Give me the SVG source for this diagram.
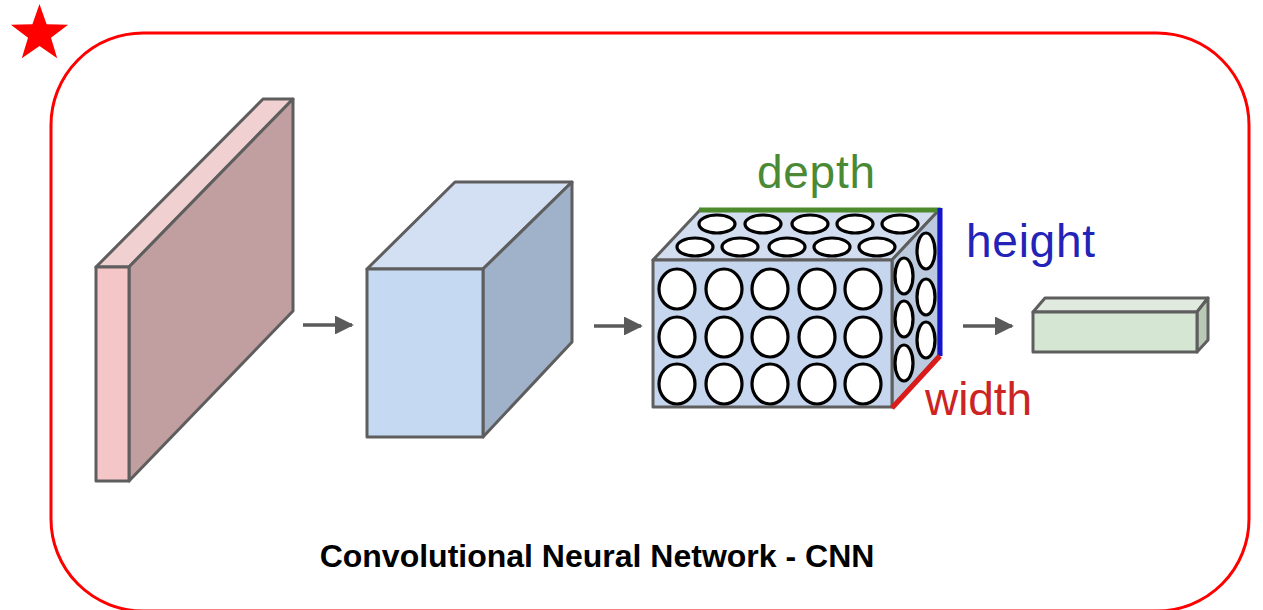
<svg xmlns="http://www.w3.org/2000/svg" width="1263" height="610" viewBox="0 0 1263 610">
  <style>
    .edge { stroke: #5e5e5e; stroke-width: 3; stroke-linejoin: round; }
    .cell { fill: #ffffff; stroke: #000000; stroke-width: 3.2; }
    .lbl { font-family: "Liberation Sans", Arial, sans-serif; font-size: 46px; }
    .arrow { stroke: #5a5a5a; stroke-width: 3.5; fill: none; }
  </style>
  <defs>
    <marker id="head" viewBox="0 0 10 10" refX="9" refY="5" markerWidth="6" markerHeight="5.4" markerUnits="strokeWidth" orient="auto">
      <path d="M0,0 L10,5 L0,10 Z" fill="#5a5a5a"/>
    </marker>
  </defs>

  <rect width="1263" height="610" fill="#ffffff"/>

  <!-- frame and star -->
  <rect x="51" y="33" width="1198" height="578" rx="92" ry="92" fill="none" stroke="#ff0000" stroke-width="3"/>
  <polygon fill="#ff0000" points="39.5,4 46.6,24.3 68.1,24.7 51,37.7 57.2,58.3 39.5,46 21.8,58.3 28,37.7 10.9,24.7 32.4,24.3"/>

  <!-- input volume -->
  <g id="input">
    <polygon class="edge" fill="#f0d0d0" points="96,267 129,267 293,99 263,99"/>
    <polygon class="edge" fill="#c19e9f" points="129,267 293,99 293,311 129,481"/>
    <rect class="edge" fill="#f4c6c8" x="96" y="267" width="33" height="214"/>
  </g>

  <!-- hidden volume -->
  <g id="hidden">
    <polygon class="edge" fill="#d3e0f3" points="367,269 483,269 572,182 455,182"/>
    <polygon class="edge" fill="#a0b1ca" points="483,269 572,182 572,342 483,437"/>
    <rect class="edge" fill="#c6d9f2" x="367" y="269" width="116" height="168"/>
  </g>

  <!-- neuron volume -->
  <g id="neurons">
    <polygon class="edge" fill="#d2ddef" points="653,260 892,260 939,210 700,210"/>
    <polygon class="edge" fill="#bccadf" points="892,260 939,210 939,355 892,407"/>
    <rect class="edge" fill="#c6d6ee" x="653" y="260" width="239" height="147"/>
    <!-- top face -->
    <g>
      <ellipse class="cell" cx="717" cy="224" rx="18" ry="9"/>
      <ellipse class="cell" cx="763" cy="224" rx="18" ry="9"/>
      <ellipse class="cell" cx="810" cy="224" rx="18" ry="9"/>
      <ellipse class="cell" cx="855" cy="224" rx="18" ry="9"/>
      <ellipse class="cell" cx="900" cy="224" rx="18" ry="9"/>
      <ellipse class="cell" cx="695" cy="247" rx="18" ry="9"/>
      <ellipse class="cell" cx="740" cy="247" rx="18" ry="9"/>
      <ellipse class="cell" cx="787" cy="247" rx="18" ry="9"/>
      <ellipse class="cell" cx="832" cy="247" rx="18" ry="9"/>
      <ellipse class="cell" cx="877" cy="247" rx="18" ry="9"/>
    </g>
    <!-- side face -->
    <g>
      <ellipse class="cell" cx="926" cy="251" rx="9" ry="18"/>
      <ellipse class="cell" cx="926" cy="297" rx="9" ry="18"/>
      <ellipse class="cell" cx="926" cy="340" rx="9" ry="18"/>
      <ellipse class="cell" cx="904" cy="276" rx="9" ry="18"/>
      <ellipse class="cell" cx="904" cy="319" rx="9" ry="18"/>
      <ellipse class="cell" cx="904" cy="363" rx="9" ry="18"/>
    </g>
    <!-- front face -->
    <g>
      <ellipse class="cell" cx="677" cy="289" rx="18" ry="20"/>
      <ellipse class="cell" cx="724" cy="289" rx="18" ry="20"/>
      <ellipse class="cell" cx="770" cy="289" rx="18" ry="20"/>
      <ellipse class="cell" cx="817" cy="289" rx="18" ry="20"/>
      <ellipse class="cell" cx="863" cy="289" rx="18" ry="20"/>
      <ellipse class="cell" cx="677" cy="337" rx="18" ry="20"/>
      <ellipse class="cell" cx="724" cy="337" rx="18" ry="20"/>
      <ellipse class="cell" cx="770" cy="337" rx="18" ry="20"/>
      <ellipse class="cell" cx="817" cy="337" rx="18" ry="20"/>
      <ellipse class="cell" cx="863" cy="337" rx="18" ry="20"/>
      <ellipse class="cell" cx="677" cy="384" rx="18" ry="20"/>
      <ellipse class="cell" cx="724" cy="384" rx="18" ry="20"/>
      <ellipse class="cell" cx="770" cy="384" rx="18" ry="20"/>
      <ellipse class="cell" cx="817" cy="384" rx="18" ry="20"/>
      <ellipse class="cell" cx="863" cy="384" rx="18" ry="20"/>
    </g>
    <!-- dimension edges -->
    <line x1="699" y1="210" x2="941" y2="210" stroke="#4d8a2c" stroke-width="5"/>
    <line x1="940" y1="208" x2="940" y2="356" stroke="#1414cc" stroke-width="5"/>
    <line x1="892" y1="408" x2="940" y2="356" stroke="#dd1a1a" stroke-width="5"/>
    <text class="lbl" x="757" y="188" textLength="118" fill="#4a8a35">depth</text>
    <text class="lbl" x="966" y="257" textLength="129" fill="#2323b8">height</text>
    <text class="lbl" x="925" y="415" textLength="107" fill="#cc2424">width</text>
  </g>

  <!-- output volume -->
  <g id="output">
    <polygon class="edge" fill="#e1eadf" points="1033,312 1197,312 1208,298 1045,298"/>
    <polygon class="edge" fill="#b9c9b6" points="1197,312 1208,298 1208,340 1197,352"/>
    <rect class="edge" fill="#d5e6d2" x="1033" y="312" width="164" height="40"/>
  </g>

  <!-- connectors -->
  <g id="connectors">
    <line class="arrow" x1="303" y1="325" x2="352" y2="325" marker-end="url(#head)"/>
    <line class="arrow" x1="594" y1="326" x2="641" y2="326" marker-end="url(#head)"/>
    <line class="arrow" x1="963" y1="326" x2="1012" y2="326" marker-end="url(#head)"/>
  </g>

  <text x="597" y="567" text-anchor="middle" font-family="'Liberation Sans', Arial, sans-serif" font-size="32" font-weight="bold" fill="#000000">Convolutional Neural Network - CNN</text>
</svg>
